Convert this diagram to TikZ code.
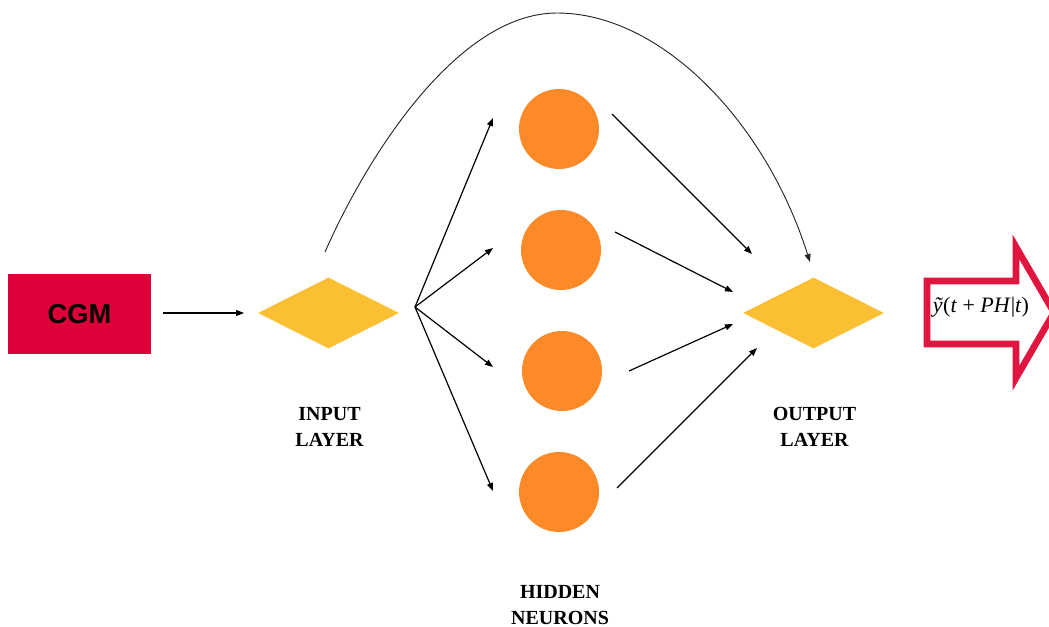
\documentclass[tikz,border=0pt]{standalone}
\usepackage{fontspec}
\setmainfont{Liberation Serif}
\newfontfamily\labelsans{Liberation Sans}
\usetikzlibrary{shapes.geometric,arrows.meta}

\definecolor{cgmred}{HTML}{DE0039}
\definecolor{layeryellow}{HTML}{FBBF33}
\definecolor{neuronorange}{HTML}{FD8A28}
\definecolor{outred}{HTML}{E01540}

\tikzset{
  layer/.style={shape=diamond, fill=layeryellow, draw=none, inner sep=0pt,
    minimum width=105.75pt, minimum height=53.25pt},
  neuron/.style={shape=circle, fill=neuronorange, draw=none, inner sep=0pt,
    minimum size=60pt},
  caption/.style={align=center, font=\bfseries\fontsize{15}{19}\selectfont},
  link/.style={draw=black, line width=0.9pt, -{Triangle[length=6pt,width=4.5pt]}},
  skip/.style={draw=black!85, line width=0.7pt, -{Triangle[length=6pt,width=4.5pt]}}
}

\begin{document}
\begin{tikzpicture}[x=0.75pt,y=-0.75pt]
\useasboundingbox (0,0) rectangle (1049,627);
\clip (0,0) rectangle (1049,627);

% CGM source block
\node[fill=cgmred, minimum width=107.25pt, minimum height=60pt, inner sep=0pt,
      font=\labelsans\bfseries\fontsize{20.5}{24}\selectfont] (cgm) at (79.5,314) {CGM};

% input and output layers
\node[layer] (in) at (328.5,313) {};
\node[layer] (out) at (813.5,313) {};

% hidden neurons
\node[neuron] (h1) at (559,129) {};
\node[neuron] (h2) at (561,250) {};
\node[neuron] (h3) at (562,371) {};
\node[neuron] (h4) at (559,492) {};

% captions
\node[caption] (inlab) at (329.5,427) {INPUT\\LAYER};
\node[caption] (outlab) at (814.5,427) {OUTPUT\\LAYER};
\node[caption] (hidlab) at (560,605) {HIDDEN\\NEURONS};

% prediction arrow with its label
\draw[outred, line width=5pt, line join=miter, fill=white]
  (927,281) -- (1016,281) -- (1016,247) -- (1054,312.5) -- (1016,378)
  -- (1016,344) -- (927,344) -- cycle;
\node[draw=none, inner sep=0pt] (pred) at (981,307)
  {\fontsize{16.5}{18}\selectfont\textit{ỹ}(\textit{t} + \textit{PH}|\textit{t})};

% connector end points
\coordinate (cgmout) at (163,313);
\coordinate (inin) at (244,313);
\coordinate (fan) at (415,307);
\coordinate (t1) at (493,118);
\coordinate (t2) at (493,248);
\coordinate (t3) at (493,367);
\coordinate (t4) at (493,491);
\coordinate (s1) at (612,114);
\coordinate (s2) at (615,232);
\coordinate (s3) at (629,371);
\coordinate (s4) at (617,488);
\coordinate (e1) at (752,254);
\coordinate (e2) at (733,292);
\coordinate (e3) at (733,324);
\coordinate (e4) at (757,348);
\coordinate (skipstart) at (325,252);
\coordinate (skiptop) at (557,13);
\coordinate (skipend) at (810,262);

% CGM into the input layer
\draw[link] (cgmout) -- (inin);

% input layer fanning out to the hidden neurons
\draw[link] (fan) -- (t1);
\draw[link] (fan) -- (t2);
\draw[link] (fan) -- (t3);
\draw[link] (fan) -- (t4);

% hidden neurons into the output layer
\draw[link] (s1) -- (e1);
\draw[link] (s2) -- (e2);
\draw[link] (s3) -- (e3);
\draw[link] (s4) -- (e4);

% direct input-to-output connection
\draw[skip] (skipstart) .. controls (370,150) and (460,13) .. (skiptop)
  .. controls (660,13) and (765,120) .. (skipend);
\end{tikzpicture}
\end{document}
